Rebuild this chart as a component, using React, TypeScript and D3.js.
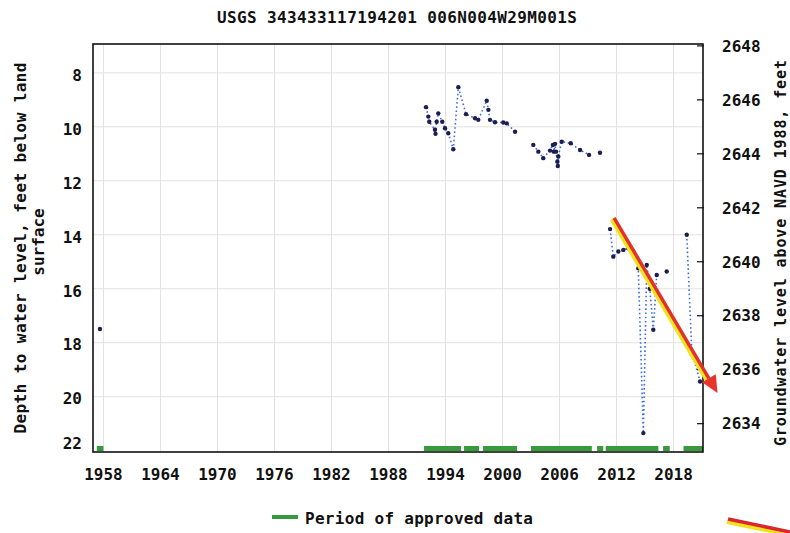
import React from "react";
import * as d3 from "d3";

// ---- data ----
const years: number[] = [
  1957.63, 1991.95, 1992.19, 1992.29, 1992.89, 1992.95, 1993.07, 1993.24, 1993.66, 1993.95,
  1994.29, 1994.82, 1995.35, 1996.16, 1997.11, 1997.45, 1998.34, 1998.51, 1998.68, 1999.21,
  2000.08, 2000.44, 2001.32, 2003.24, 2003.77, 2004.29, 2005.0, 2005.3, 2005.4, 2005.53,
  2005.63, 2005.77, 2005.82, 2005.87, 2006.23, 2007.18, 2008.16, 2009.11, 2010.26, 2011.32,
  2011.66, 2012.19, 2012.72, 2013.24, 2013.77, 2014.29, 2014.82, 2015.18, 2015.5, 2015.87,
  2016.23, 2017.28, 2019.39, 2019.92, 2020.79,
];
const depths: number[] = [
  17.49, 9.27, 9.62, 9.81, 10.11, 10.26, 9.81, 9.5, 9.81, 10.05,
  10.24, 10.83, 8.53, 9.53, 9.68, 9.74, 9.03, 9.37, 9.74, 9.83,
  9.84, 9.87, 10.18, 10.67, 10.92, 11.16, 10.88, 10.67, 10.92, 10.63,
  10.92, 11.29, 11.45, 11.1, 10.55, 10.61, 10.86, 11.04, 10.96, 13.79,
  14.81, 14.62, 14.56, 14.5, 14.62, 15.24, 21.35, 15.12, 16.0, 17.52,
  15.49, 15.36, 14.0, 18.33, 19.44,
];
const approvedStart: number[] = [1957.3, 1991.74, 1995.95, 1997.95, 2003.0, 2009.95, 2010.86, 2016.9, 2019.05];
const approvedEnd: number[] = [1958.0, 1995.63, 1997.53, 2001.53, 2009.4, 2010.6, 2016.4, 2017.6, 2021.1];
const xTickYears: number[] = [1958, 1964, 1970, 1976, 1982, 1988, 1994, 2000, 2006, 2012, 2018];
const depthTicks: number[] = [8, 10, 12, 14, 16, 18, 20, 22];
const elevTicks: number[] = [2634, 2636, 2638, 2640, 2642, 2644, 2646, 2648];
const landSurface = 2655.0;
const title = "USGS 343433117194201 006N004W29M001S";
const leftLabel1 = "Depth to water level, feet below land";
const leftLabel2 = "surface";
const rightLabel = "Groundwater level above NAVD 1988, feet";
const legendLabel = "Period of approved data";
// hand-drawn annotation arrow (in data units: year, depth)
const arrowFrom: [number, number] = [2011.74, 13.37];
const arrowTo: [number, number] = [2022.63, 19.86];

const FONT = "'DejaVu Sans Mono', monospace";

export default function App() {
  const x = d3.scaleLinear().domain([1956.9, 2021.1]).range([93, 703]);
  const y = d3.scaleLinear().domain([6.93, 22.05]).range([44, 452]);
  const yE = (e: number) => y(landSurface - e);
  const [x0, x1] = x.range();
  const [y0, y1] = y.range();

  const pts = years.map((t, i) => ({ t, d: depths[i] }));
  const segments: { t: number; d: number }[][] = [];
  let cur: { t: number; d: number }[] = [];
  pts.forEach((p, i) => {
    if (i > 0 && p.t - pts[i - 1].t > 1.0) {
      segments.push(cur);
      cur = [];
    }
    cur.push(p);
  });
  segments.push(cur);
  const line = d3
    .line<{ t: number; d: number }>()
    .x((p) => x(p.t))
    .y((p) => y(p.d));

  // arrow geometry
  const ax0 = x(arrowFrom[0]);
  const ay0 = y(arrowFrom[1]);
  const ax1 = x(arrowTo[0]);
  const ay1 = y(arrowTo[1]);
  const ang = Math.atan2(ay1 - ay0, ax1 - ax0);
  const headL = 17;
  const headW = 8;
  const bx = ax1 - headL * Math.cos(ang);
  const by = ay1 - headL * Math.sin(ang);
  const nx = -Math.sin(ang);
  const ny = Math.cos(ang);
  const head = `${ax1},${ay1} ${bx + nx * headW},${by + ny * headW} ${bx - nx * headW},${by - ny * headW}`;

  const txt = { fontFamily: FONT, fontWeight: 700, fontSize: 16, fill: "#111" } as const;

  return (
    <svg
      width={790}
      height={533}
      style={{ position: "absolute", left: 0, top: 0, background: "#fff" }}
    >
      <rect x={0} y={0} width={790} height={533} fill="#fff" />
      {/* grid */}
      {xTickYears.map((t) => (
        <line key={"gx" + t} x1={x(t)} x2={x(t)} y1={y0} y2={y1} stroke="#e2e2e2" strokeWidth={1} />
      ))}
      {depthTicks.slice(0, -1).map((d) => (
        <line key={"gy" + d} x1={x0} x2={x1} y1={y(d)} y2={y(d)} stroke="#e2e2e2" strokeWidth={1} />
      ))}
      {/* approved data bars */}
      {approvedStart.map((s, i) => (
        <rect
          key={"ap" + i}
          x={x(s)}
          y={446}
          width={Math.max(x(approvedEnd[i]) - x(s), 3)}
          height={5}
          fill="#379b3e"
        />
      ))}
      {/* data lines */}
      {segments.map((seg, i) =>
        seg.length > 1 ? (
          <path
            key={"seg" + i}
            d={line(seg) || ""}
            fill="none"
            stroke="#3d6fe0"
            strokeWidth={1.6}
            strokeDasharray="1.6,2.6"
          />
        ) : null
      )}
      {pts.map((p, i) => (
        <circle key={"pt" + i} cx={x(p.t)} cy={y(p.d)} r={2.2} fill="#1d1d52" />
      ))}
      {/* frame */}
      <rect x={x0} y={y0} width={x1 - x0} height={y1 - y0} fill="none" stroke="#111" strokeWidth={1.6} />
      {/* right ticks */}
      {elevTicks.map((e) => (
        <line key={"rt" + e} x1={x1 - 6} x2={x1 + 1} y1={yE(e)} y2={yE(e)} stroke="#111" strokeWidth={1.2} />
      ))}
      {/* left tick labels */}
      {depthTicks.map((d) => (
        <text key={"lt" + d} x={82} y={Math.min(y(d) + 2, 443)} dy="0.36em" textAnchor="end" {...txt}>
          {d}
        </text>
      ))}
      {/* right tick labels */}
      {elevTicks.map((e) => (
        <text key={"rl" + e} x={722} y={yE(e)} dy="0.36em" textAnchor="start" {...txt}>
          {e}
        </text>
      ))}
      {/* x tick labels */}
      {xTickYears.map((t) => (
        <text key={"xl" + t} x={x(t)} y={474} dy="0.36em" textAnchor="middle" {...txt}>
          {t}
        </text>
      ))}
      {/* title */}
      <text x={397} y={17} dy="0.36em" textAnchor="middle" textLength={360} lengthAdjust="spacing" {...txt}>
        {title}
      </text>
      {/* axis titles */}
      <text
        transform="translate(20,248) rotate(-90)"
        dy="0.36em"
        textAnchor="middle"
        textLength={371}
        lengthAdjust="spacing"
        {...txt}
      >
        {leftLabel1}
      </text>
      <text transform="translate(38,242) rotate(-90)" dy="0.36em" textAnchor="middle" {...txt}>
        {leftLabel2}
      </text>
      <text
        transform="translate(781,253) rotate(-90)"
        dy="0.36em"
        textAnchor="middle"
        textLength={386}
        lengthAdjust="spacing"
        {...txt}
        fontSize={15}
      >
        {rightLabel}
      </text>
      {/* legend */}
      <rect x={272} y={515} width={26} height={4} fill="#379b3e" />
      <text x={305} y={518} dy="0.36em" textLength={228} lengthAdjust="spacing" {...txt}>
        {legendLabel}
      </text>
      {/* hand-drawn annotation arrow */}
      <line
        x1={ax0}
        y1={ay0}
        x2={bx}
        y2={by}
        stroke="#f2e21c"
        strokeWidth={4}
        transform="translate(-2.5,1.5)"
      />
      <line x1={ax0} y1={ay0} x2={bx} y2={by} stroke="#e2312b" strokeWidth={3.5} />
      <polygon points={head} fill="#e8352c" />
      <line x1={727} y1={522} x2={790} y2={535} stroke="#f2e21c" strokeWidth={4} />
      <line x1={728} y1={519} x2={790} y2={532} stroke="#d92630" strokeWidth={3.5} />
    </svg>
  );
}
